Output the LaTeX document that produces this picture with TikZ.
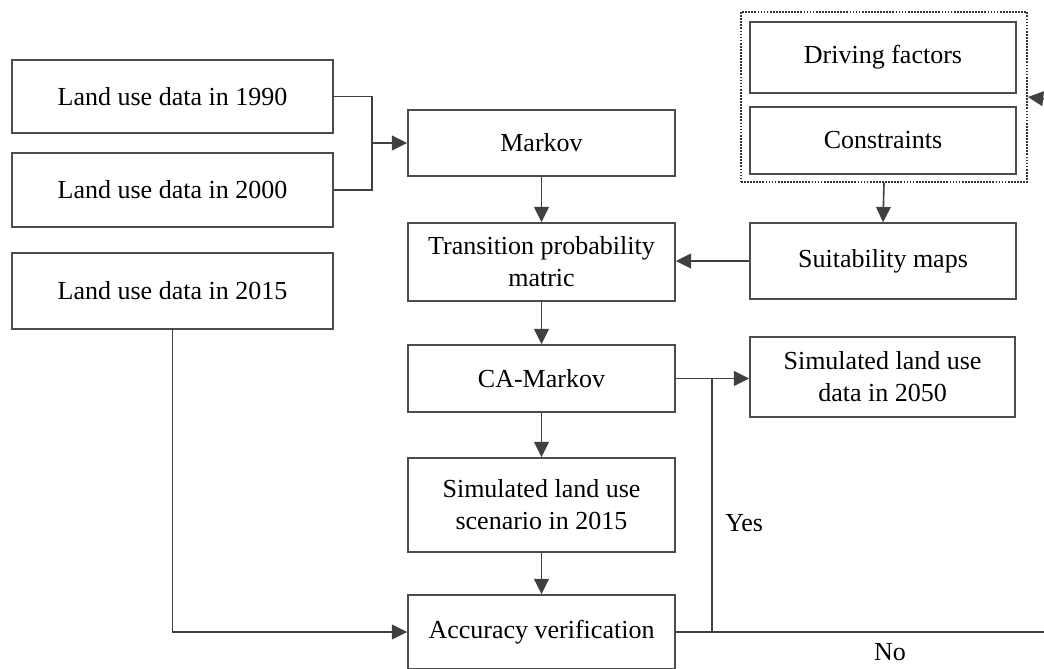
\documentclass[tikz,border=0pt]{standalone}
\usepackage{fontspec}
\setmainfont{Liberation Serif}
\usetikzlibrary{arrows.meta}

\begin{document}
\begin{tikzpicture}[x=0.75pt,y=-0.75pt,
      flow/.style={draw=black!75,line width=1.2pt,-{Triangle[length=11.5pt,width=11pt]}},%
      link/.style={draw=black!75,line width=1.2pt},%
      box/.style={draw=black!70,line width=1.1pt,align=center,
        font=\fontsize{19.5}{24}\selectfont,inner sep=0pt},%
      group/.style={draw=black!80,densely dotted,line width=1.3pt,inner sep=0pt}%
      ]
      \useasboundingbox (0,0) rectangle (1044,668);
      %% create nodes
      \node[box,minimum width=240.75pt,minimum height=54.75pt] (d1990) at (172.5,96.5) {Land use data in 1990};%
      \node[box,minimum width=240.75pt,minimum height=55.5pt] (d2000) at (172.5,190) {Land use data in 2000};%
      \node[box,minimum width=240.75pt,minimum height=57pt] (d2015) at (172.5,291) {Land use data in 2015};%
      \node[box,minimum width=200.25pt,minimum height=49.5pt] (markov) at (541.5,143) {Markov};%
      \node[box,minimum width=200.25pt,minimum height=58.5pt] (trans) at (541.5,262) {Transition probability\\matric};%
      \node[box,minimum width=200.25pt,minimum height=50.25pt] (camarkov) at (541.5,378.5) {CA-Markov};%
      \node[box,minimum width=200.25pt,minimum height=70.5pt] (simscen) at (541.5,505) {Simulated land use\\scenario in 2015};%
      \node[box,minimum width=200.25pt,minimum height=55.5pt] (accur) at (541.5,632) {Accuracy verification};%
      \node[box,minimum width=199.5pt,minimum height=53.25pt] (driving) at (883,57.5) {Driving factors};%
      \node[box,minimum width=199.5pt,minimum height=50.25pt] (constr) at (883,140.5) {Constraints};%
      \node[group,minimum width=214.5pt,minimum height=127.5pt] (factors) at (884,97) {};%
      \node[box,minimum width=199.5pt,minimum height=57pt] (suit) at (883,261) {Suitability maps};%
      \node[box,minimum width=198.75pt,minimum height=60pt] (sim2050) at (882.5,377) {Simulated land use\\data in 2050};%
      %% free ends
      \coordinate (jn) at (372,143);%
      \coordinate (yestop) at (712,378.5);%
      \coordinate (yesbot) at (712,632);%
      \coordinate (noend) at (1046,632);%
      \coordinate (fbin) at (1046,99);%
      %% draw lines
      \draw[link] (d1990.east) -| (jn);%
      \draw[link] (d2000.east) -| (jn);%
      \draw[flow] (jn) -- (markov.west);%
      \foreach \x/\y in {markov/trans,trans/camarkov,camarkov/simscen,simscen/accur} {%
        \draw[flow] (\x.south) -- (\y.north);%
      }%
      \draw[flow] (factors.south) -- (suit.north);%
      \draw[flow] (suit.west) -- (suit.west -| trans.east);%
      \draw[flow] (d2015.south) |- (accur.west);%
      \draw[flow] (camarkov.east) -- (camarkov.east -| sim2050.west);%
      \draw[link] (yestop) -- node[pos=0.57,right=6pt,font=\fontsize{19.5}{24}\selectfont] {Yes} (yesbot);%
      \draw[link] (accur.east) -- (noend);%
      \node[font=\fontsize{19.5}{24}\selectfont] (nolbl) at (890,652) {No};%
      \draw[flow] (fbin) -- (factors.east);%
    \end{tikzpicture}
\end{document}
